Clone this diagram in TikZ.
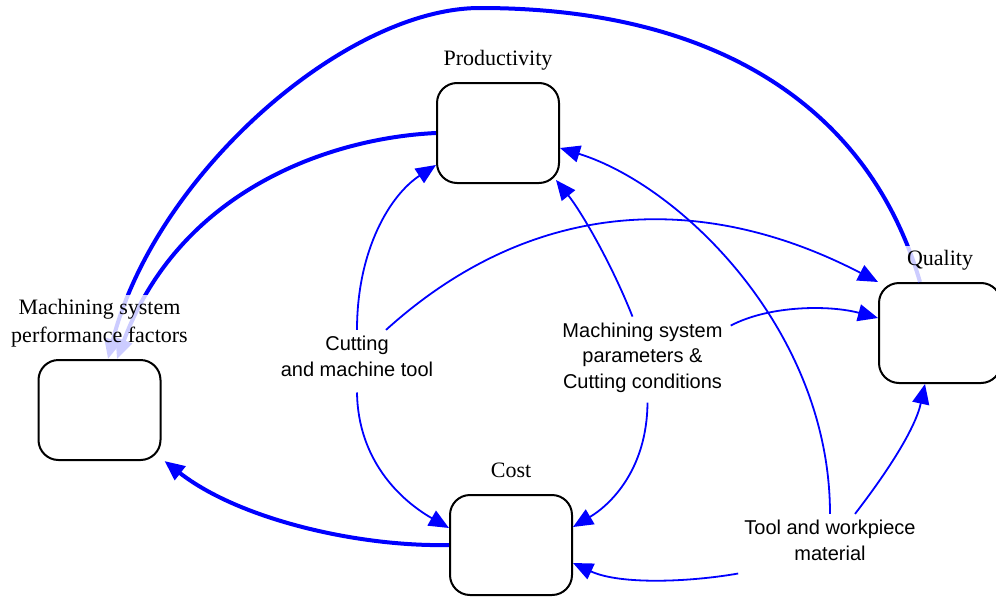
\documentclass[tikz,border=0pt]{standalone}
\usepackage{fontspec}
\setmainfont{Liberation Serif}
\newfontfamily\inputsans{Liberation Sans}
\usetikzlibrary{arrows.meta}
\definecolor{linkblue}{RGB}{0,0,255}

\begin{document}
\begin{tikzpicture}[x=1pt,y=-1pt,
  factorbox/.style={draw=black, line width=2pt, rounded corners=20pt,
    minimum width=122pt, minimum height=100pt, fill=white},
  boxlabel/.style={font=\fontsize{22}{28}\selectfont, align=center,
    fill=white, fill opacity=0.8, text opacity=1, anchor=south,
    inner xsep=3pt, inner ysep=4pt, text depth=12.5pt},
  inputlabel/.style={font=\inputsans\fontsize{20}{25.5}\selectfont,
    align=center, inner xsep=8pt, inner ysep=6pt},
  thinlink/.style={draw=linkblue, line width=1.8pt,
    -{Triangle[length=20pt,width=17pt]}},
  thicklink/.style={thinlink, line width=4pt}
]
\useasboundingbox (0,0) rectangle (996,597);

% performance factor boxes
\node[factorbox] (prod) at (498,133) {};
\node[factorbox] (perf) at (99.5,410) {};
\node[factorbox] (cost) at (511,545) {};
\node[factorbox] (qual) at (940,333) {};

% influencing inputs
\node[inputlabel] (cut) at (357,356.2) {Cutting\\and machine tool};
\node[inputlabel] (msp) at (642.5,357.6) {Machining system\\parameters \&\\Cutting conditions};
\node[inputlabel] (tool) at (830,540.2) {Tool and workpiece\\material};

% feedback of the three measures into the performance factors
\draw[thicklink] ([xshift=42pt]qual.north west)
  .. controls (870,110) and (720,8) .. (480,8)
  .. controls (345,8) and (155,175) .. ([xshift=8.5pt]perf.north);
\draw[thicklink] (prod.west) .. controls (330,138) and (180,190) .. ([xshift=17.5pt]perf.north);
\draw[thicklink] (cost.west) .. controls (360,547) and (240,520) .. ([xshift=3pt]perf.south east);

% cutting and machine tool
\draw[thinlink] (cut.north) .. controls (357,250) and (390,195) .. ([yshift=-32pt]prod.west);
\draw[thinlink] ([yshift=-10pt]cut.south) .. controls (358,460) and (400,500) .. ([yshift=17pt]cost.west);
\draw[thinlink] ([xshift=29pt]cut.north) .. controls (534,196) and (705,192) .. (qual.north west);

% machining system parameters
\draw[thinlink] ([xshift=-10pt]msp.north) .. controls (610,260) and (580,210) .. ([xshift=-4pt,yshift=4pt]prod.south east);
\draw[thinlink] ([yshift=-9pt]msp.north east) .. controls (770,305) and (830,305) .. ([yshift=15pt]qual.west);
\draw[thinlink] ([xshift=5pt,yshift=-4pt]msp.south) .. controls (647,470) and (610,505) .. ([yshift=18pt]cost.east);

% tool and workpiece material
\draw[thinlink] (tool.north) .. controls (830,330) and (680,185) .. ([yshift=-15pt]prod.east);
\draw[thinlink] ([xshift=25pt]tool.north) .. controls (885,475) and (915,430) .. ([xshift=-15pt]qual.south);
\draw[thinlink] ([xshift=2pt,yshift=-7pt]tool.south west) .. controls (690,582) and (620,585) .. ([yshift=-18pt]cost.east);

% box titles, over the connectors
\node[boxlabel] (prodtitle) at (prod.north) {Productivity};
\node[boxlabel] (perftitle) at (perf.north) {Machining system\\performance factors};
\node[boxlabel] (costtitle) at (cost.north) {Cost};
\node[boxlabel] (qualtitle) at (qual.north) {Quality};
\end{tikzpicture}
\end{document}
